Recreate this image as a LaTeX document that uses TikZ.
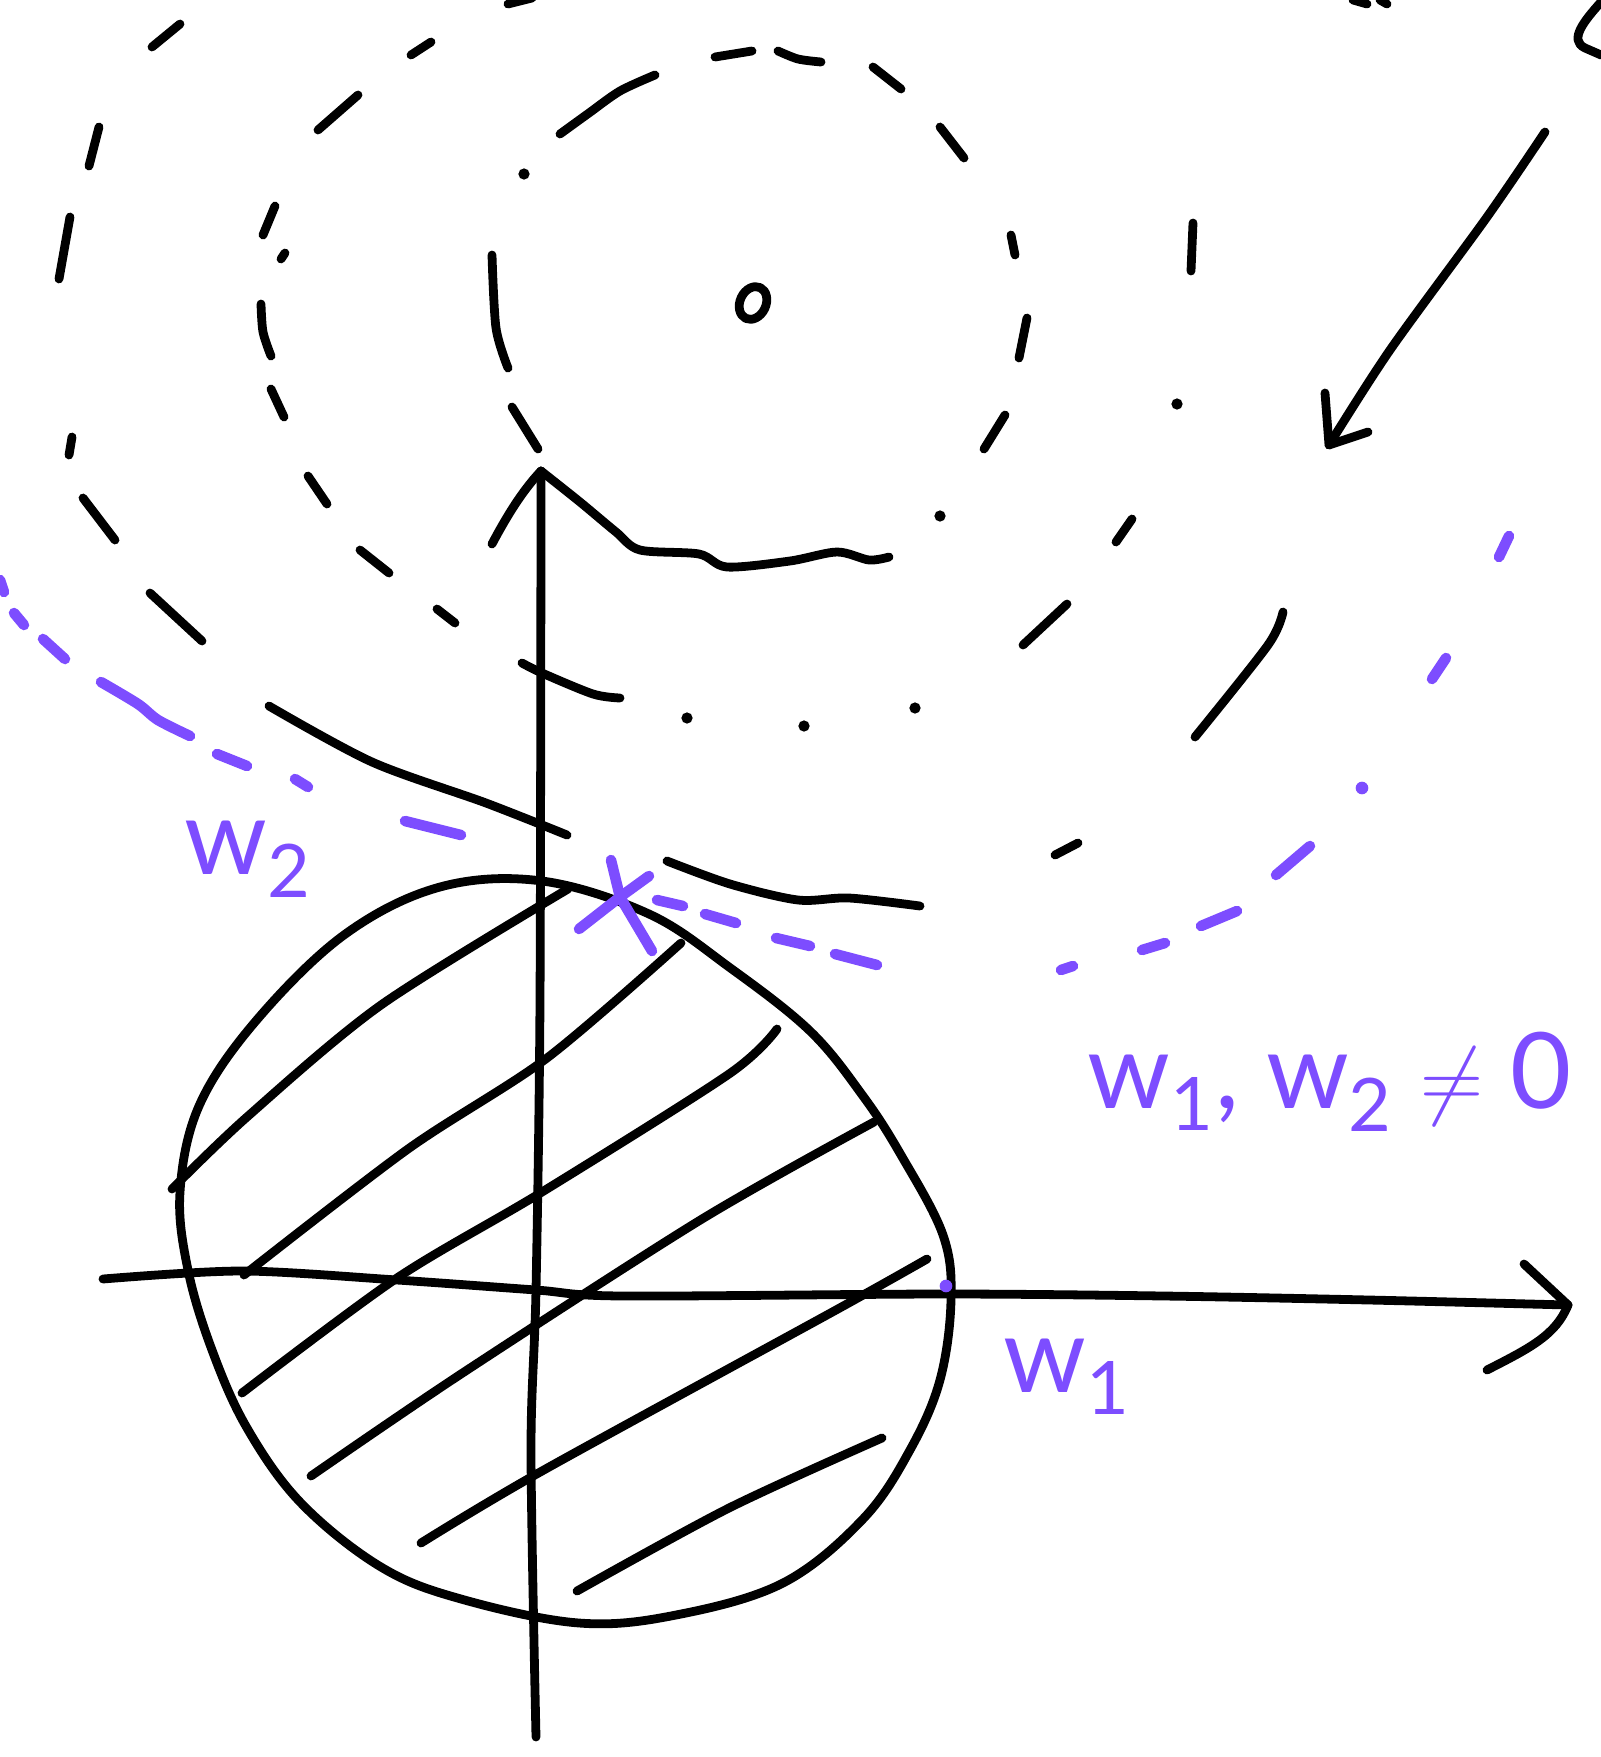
\documentclass[tikz,border=0pt]{standalone}
\usepackage{fontspec}
\setmainfont{Lato}
\definecolor{penpurple}{RGB}{125,77,255}
\tikzset{
  pen/.style={line width=2.5pt, line cap=round, line join=round},
  ppen/.style={pen, line width=3pt, penpurple},
  lbl/.style={penpurple, font=\fontsize{30}{36}\selectfont, inner sep=0pt, anchor=base west}
}

\begin{document}
\begin{tikzpicture}[x=0.01cm, y=-0.01cm]
        \useasboundingbox (0,0) rectangle (1601,1757);

        % Axes
        \coordinate (O) at (536,1290);
        \coordinate (ybot) at (536,1737);
        \coordinate (ytip) at (541,471);
        \coordinate (xleft) at (103,1279);
        \coordinate (xtip) at (1568,1305);

        \draw[pen] plot[smooth] coordinates {(ybot) (531,1450) (O) (540,1000) (ytip)};
        \draw[pen] (492,544) .. controls (510,510) and (525,488) .. (ytip);
        \draw[pen] plot[smooth] coordinates {(ytip) (580,502) (616,532) (640,550) (699,554) (727,567) (790,561) (837,552) (869,560) (889,557)};

        \draw[pen] plot[smooth] coordinates {(xleft) (242,1271) (397,1280) (O) (622,1296) (943,1294) (1164,1296) (1369,1300) (xtip)};
        \draw[pen] (1524,1264) -- (xtip);
        \draw[pen] (xtip) .. controls (1556,1335) and (1530,1348) .. (1487,1370);

        % Constraint region (circle) with hatching
        \draw[pen] plot[smooth cycle, tension=0.6] coordinates {(542,881) (649,914) (729,967) (810,1031) (863,1096) (901,1155) (943,1235) (951,1300) (940,1380) (910,1450) (863,1519) (783,1583) (676,1615) (579,1623) (461,1599) (381,1567) (301,1503) (247,1428) (212,1350) (188,1270) (180,1192) (199,1106) (255,1022) (344,935) (440,887)};

        \draw[pen] plot[smooth] coordinates {(172,1189) (247,1117) (381,1005) (568,889)};
        \draw[pen] plot[smooth] coordinates {(244,1275) (408,1149) (547,1058) (681,943)};
        \draw[pen] plot[smooth] coordinates {(242,1393) (397,1278) (542,1192) (729,1074) (777,1029)};
        \draw[pen] plot[smooth] coordinates {(311,1476) (461,1374) (702,1219) (874,1122)};
        \draw[pen] plot[smooth] coordinates {(421,1543) (542,1471) (836,1310) (927,1259)};
        \draw[pen] plot[smooth] coordinates {(577,1591) (729,1508) (882,1438)};

        % Loss contours: centre
        \draw[pen] (753,303) ellipse [x radius=13, y radius=17, rotate=-25];

        % Inner contour
        \draw[pen] plot[smooth] coordinates {(560,134) (589,113) (620,91) (655,75)};
        \draw[pen] (715,57) -- (752,51);
        \draw[pen] plot[smooth] coordinates {(778,51) (798,59) (821,62)};
        \draw[pen] (873,67) -- (901,89);
        \draw[pen] (940,127) -- (964,158);
        \draw[pen] (1011,235) -- (1015,255);
        \draw[pen] (1027,318) -- (1019,358);
        \draw[pen] (1005,415) -- (984,449);
        \fill (940,516) circle[radius=1.6pt];
        \fill (524,174) circle[radius=1.6pt];
        \draw[pen] plot[smooth] coordinates {(492,255) (496,328) (508,368)};
        \draw[pen] (512,407) -- (538,449);

        % Middle contour
        \draw[pen] (508,4) -- (532,-2);
        \draw[pen] (411,55) -- (431,42);
        \draw[pen] (318,130) -- (358,95);
        \draw[pen] (275,206) -- (263,235);
        \draw[pen] (285,253) -- (281,259);
        \draw[pen] plot[smooth] coordinates {(261,304) (263,332) (271,356)};
        \draw[pen] (271,389) -- (284,417);
        \draw[pen] (308,476) -- (327,504);
        \draw[pen] (360,550) -- (389,573);
        \draw[pen] (437,609) -- (455,623);
        \draw[pen] plot[smooth] coordinates {(522,663) (542,673) (593,694) (620,698)};
        \fill (687,718) circle[radius=1.6pt];
        \fill (804,726) circle[radius=1.6pt];
        \fill (915,708) circle[radius=1.6pt];
        \draw[pen] (1023,645) -- (1067,604);
        \draw[pen] (1116,542) -- (1132,519);
        \fill (1177,404) circle[radius=1.6pt];
        \draw[pen] (1191,271) -- (1193,223);

        % Outer contour
        \draw[pen] (152,47) -- (180,24);
        \draw[pen] (99,127) -- (89,166);
        \draw[pen] (70,217) -- (59,279);
        \draw[pen] (72,437) -- (69,455);
        \draw[pen] (83,498) -- (115,540);
        \draw[pen] (150,593) -- (202,641);
        \draw[pen] plot[smooth] coordinates {(269,706) (372,762) (486,803) (567,835)};
        \draw[pen] plot[smooth] coordinates {(667,861) (730,884) (798,900) (849,898) (920,906)};
        \draw[pen] (1055,855) -- (1078,843);
        \draw[pen] plot[smooth] coordinates {(1195,737) (1268,645) (1283,612)};
        \draw[pen] (1353,0) -- (1367,4);
        \draw[pen] (1380,0) -- (1387,4);

        % Arrow towards the contours
        \coordinate (arrowstart) at (1545,132);
        \coordinate (arrowtip) at (1329,445);
        \draw[pen] plot[smooth] coordinates {(arrowstart) (1487,217) (1390,350) (arrowtip)};
        \draw[pen] (1325,393) -- (arrowtip) -- (1368,432);
        \draw[pen] (1601,2) .. controls (1585,20) and (1568,40) .. (1585,48) -- (1601,55);

        % Contour touching the circle
        \draw[ppen] (0,580) -- (4,592);
        \draw[ppen] (14,613) -- (24,625);
        \draw[ppen] (43,639) -- (65,659);
        \draw[ppen] plot[smooth] coordinates {(101,682) (138,704) (158,720) (190,736)};
        \draw[ppen] (217,754) -- (247,766);
        \draw[ppen] (295,779) -- (308,787);
        \draw[ppen] (405,821) -- (461,835);
        \draw[ppen] (657,900) -- (683,906);
        \draw[ppen] (705,914) -- (736,923);
        \draw[ppen] (776,938) -- (810,946);
        \draw[ppen] (835,954) -- (877,965);
        \draw[ppen] (1061,970) -- (1073,966);
        \draw[ppen] (1142,950) -- (1165,943);
        \draw[ppen] (1201,926) -- (1237,911);
        \draw[ppen] (1276,875) -- (1310,846);
        \fill[penpurple] (1362,788) circle[radius=1.8pt];
        \draw[ppen] (1432,679) -- (1446,658);
        \draw[ppen] (1499,557) -- (1509,536);

        % Tangent point
        \coordinate (touch) at (620,897);
        \draw[ppen] (611,860) -- (touch) -- (652,951);
        \draw[ppen] (579,929) -- (touch) -- (649,876);
        \fill[penpurple] (946,1286) circle[radius=1.8pt];

        % Labels
        \node[lbl] (lblwtwo) at (184,874) {w\textsubscript{2}};
        \node[lbl] (lblwone) at (1003,1392) {w\textsubscript{1}};
        \node[lbl] (lblcond) at (1087,1108) {w\textsubscript{1}, w\textsubscript{2} $\neq$ 0};
\end{tikzpicture}
\end{document}
